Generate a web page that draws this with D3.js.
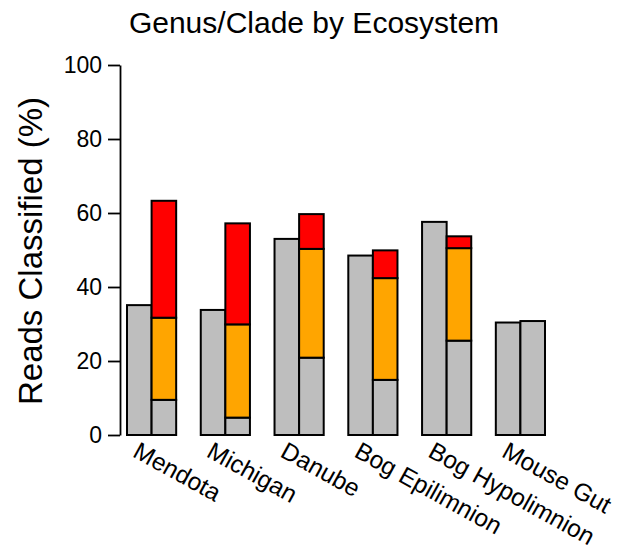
<!DOCTYPE html>
<html>
<head>
<meta charset="utf-8">
<script src="https://cdn.jsdelivr.net/npm/d3@7"></script>
<style>
  html, body { margin: 0; padding: 0; background: #fff; }
  svg { display: block; font-family: "Liberation Sans", Arial, Helvetica, sans-serif; }
</style>
</head>
<body>
<svg id="chart" width="631" height="552"></svg>
<script>
// ---- data ----
const categories = ["Mendota", "Michigan", "Danube", "Bog Epilimnion", "Bog Hypolimnion", "Mouse Gut"];
const totalClassified = [35.1, 33.8, 53.0, 48.5, 57.6, 30.4];   // first (plain gray) bar
const grayPart   = [9.5, 4.7, 20.9, 14.9, 25.5, 30.8];          // second bar, bottom segment
const orangePart = [22.2, 25.2, 29.4, 27.5, 25.0, 0.0];          // second bar, middle segment
const redPart    = [31.6, 27.3, 9.4, 7.5, 3.2, 0.0];             // second bar, top segment
const yTicks = [0, 20, 40, 60, 80, 100];
const segKeys = ["gray", "orange", "red"];
const segColors = ["#BEBEBE", "#FFA500", "#FF0000"];

const svg = d3.select("#chart");

const x = d3.scaleBand().domain(categories).range([127, 545]).paddingInner(1 / 3).paddingOuter(0);
const xInner = d3.scaleBand().domain(["total", "split"]).range([0, x.bandwidth()]);
const y = d3.scaleLinear().domain([0, 100]).range([435, 65]);
const color = d3.scaleOrdinal().domain(segKeys).range(segColors);

// stacked data for second bar
const rows = categories.map((c, i) => ({ cat: c, gray: grayPart[i], orange: orangePart[i], red: redPart[i] }));
const stacked = d3.stack().keys(segKeys)(rows);

// first bars
svg.append("g").selectAll("rect")
  .data(categories)
  .join("rect")
  .attr("x", c => x(c) + xInner("total"))
  .attr("width", xInner.bandwidth())
  .attr("y", (c, i) => y(totalClassified[i]))
  .attr("height", (c, i) => y(0) - y(totalClassified[i]))
  .attr("fill", segColors[0])
  .attr("stroke", "#000")
  .attr("stroke-width", 2);

// second (stacked) bars
svg.append("g").selectAll("g")
  .data(stacked)
  .join("g")
  .attr("fill", d => color(d.key))
  .selectAll("rect")
  .data(d => d.filter(s => s[1] - s[0] > 0))
  .join("rect")
  .attr("x", d => x(d.data.cat) + xInner("split"))
  .attr("width", xInner.bandwidth())
  .attr("y", d => y(d[1]))
  .attr("height", d => y(d[0]) - y(d[1]))
  .attr("stroke", "#000")
  .attr("stroke-width", 2);

// y axis
const yAxis = d3.axisLeft(y).tickValues(yTicks).tickSize(12).tickPadding(6).tickSizeOuter(0);
const gy = svg.append("g").attr("transform", "translate(120,0)").call(yAxis);
gy.select(".domain").attr("stroke", "#000").attr("stroke-width", 1.8);
gy.selectAll(".tick line").attr("stroke", "#000").attr("stroke-width", 1.8);
gy.selectAll(".tick text").attr("font-size", 23).attr("fill", "#000")
  .attr("font-family", "Liberation Sans, Arial, sans-serif");

// x labels (rotated)
svg.append("g").selectAll("text")
  .data(categories)
  .join("text")
  .attr("transform", c => `translate(${x(c) + x.bandwidth() / 2 - 20},456) rotate(29)`)
  .attr("text-anchor", "start")
  .attr("font-size", 24.5)
  .attr("fill", "#000")
  .text(c => c);

// y title
svg.append("text")
  .attr("transform", "translate(42,251) rotate(-90)")
  .attr("text-anchor", "middle")
  .attr("font-size", 33)
  .attr("fill", "#000")
  .text("Reads Classified (%)");

// main title
svg.append("text")
  .attr("x", 314)
  .attr("y", 33)
  .attr("text-anchor", "middle")
  .attr("font-size", 30)
  .attr("fill", "#000")
  .text("Genus/Clade by Ecosystem");
</script>
</body>
</html>
